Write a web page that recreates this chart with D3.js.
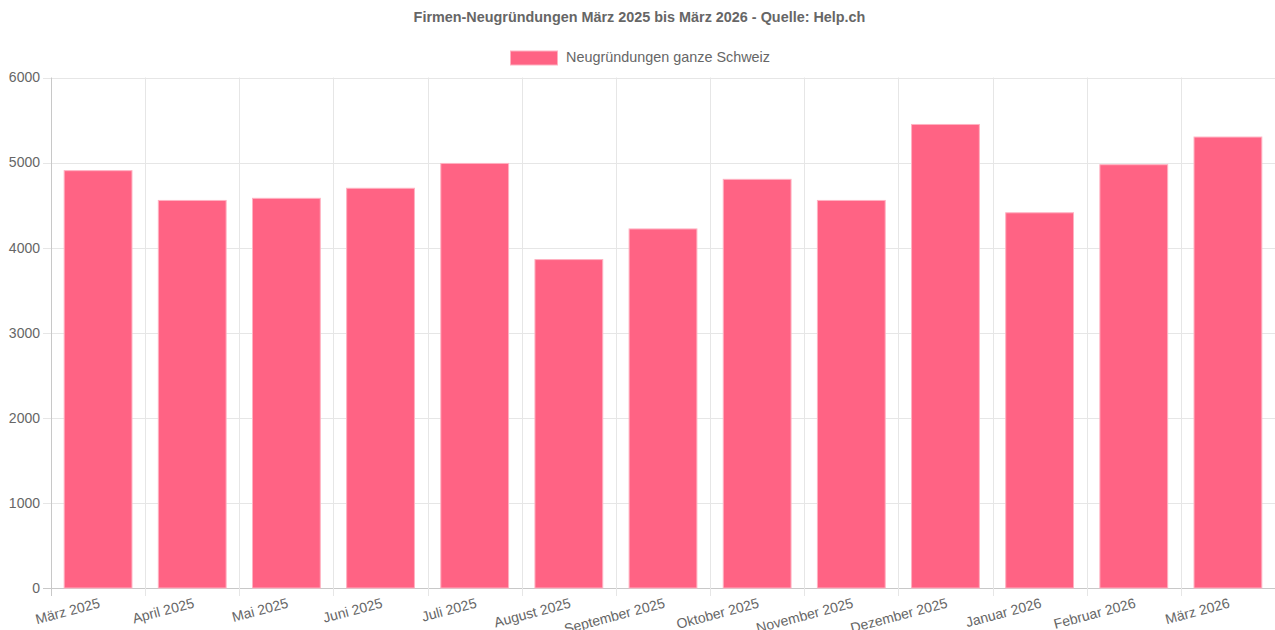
<!DOCTYPE html>
<html><head><meta charset="utf-8">
<script src="https://cdn.jsdelivr.net/npm/d3@7"></script>
<style>html,body{margin:0;padding:0;background:#fff;}svg{display:block;font-family:"Liberation Sans",Arial,Helvetica,sans-serif;}</style>
</head><body>
<svg id="chart" width="1275" height="630"></svg>
<script>
const categories = ["März 2025","April 2025","Mai 2025","Juni 2025","Juli 2025","August 2025","September 2025","Oktober 2025","November 2025","Dezember 2025","Januar 2026","Februar 2026","März 2026"];
const values = [4905, 4555, 4580, 4698, 4990, 3860, 4220, 4803, 4555, 5448, 4410, 4975, 5300];
const yTicks = [0, 1000, 2000, 3000, 4000, 5000, 6000];
const seriesName = "Neugründungen ganze Schweiz";
const titleText = "Firmen-Neugründungen März 2025 bis März 2026 - Quelle: Help.ch";

(function () {
const svg = d3.select("#chart");
const pl = 51, pr = 1275, pt = 77.5, pb = 588;
const x = d3.scaleBand().domain(categories).range([pl, pr]).paddingInner(0).paddingOuter(0);
const y = d3.scaleLinear().domain([0, 6000]).range([pb, pt]);
const bw = x.bandwidth();
const grid = "#e6e6e6", axisCol = "#c8c8c8", txt = "#666";
const fs = 14;

// horizontal grid
svg.append("g").selectAll("line").data(yTicks).join("line")
  .attr("x1", pl - 8).attr("x2", pr)
  .attr("y1", d => Math.round(y(d)) + 0.5).attr("y2", d => Math.round(y(d)) + 0.5)
  .attr("stroke", d => d === 0 ? axisCol : grid).attr("stroke-width", 1);
// vertical grid at category boundaries
const bounds = categories.map(c => x(c)).slice(1).concat([pr]);
svg.append("g").selectAll("line").data(bounds).join("line")
  .attr("x1", d => Math.round(d) + 0.5).attr("x2", d => Math.round(d) + 0.5)
  .attr("y1", pt).attr("y2", pb + 8)
  .attr("stroke", grid);
// left axis line
svg.append("line").attr("x1", pl + 0.5).attr("x2", pl + 0.5).attr("y1", pt).attr("y2", pb + 8).attr("stroke", axisCol);

// y tick labels
svg.append("g").selectAll("text").data(yTicks).join("text")
  .attr("x", 40).attr("y", d => y(d)).attr("dy", "0.35em")
  .attr("text-anchor", "end").attr("font-size", fs).attr("fill", txt)
  .text(d => d);

// bars
svg.append("g").selectAll("rect").data(values).join("rect")
  .attr("x", (d, i) => x(categories[i]) + bw * 0.14)
  .attr("width", bw * 0.72)
  .attr("y", d => y(d)).attr("height", d => y(0) - y(d))
  .attr("fill", "#ff6384").attr("stroke", "#ffb1c1").attr("stroke-width", 1);

// x labels
svg.append("g").selectAll("text").data(categories).join("text")
  .attr("transform", d => `translate(${x(d) + bw / 2},${597}) rotate(-15)`)
  .attr("text-anchor", "end").attr("dy", "0.75em")
  .attr("font-size", fs).attr("fill", txt).text(d => d);

// title
svg.append("text").attr("x", 639.5).attr("y", 22).attr("text-anchor", "middle")
  .attr("font-size", 14.4).attr("font-weight", "bold").attr("fill", txt).text(titleText);

// legend
svg.append("rect").attr("x", 510.5).attr("y", 51).attr("width", 47).attr("height", 14)
  .attr("fill", "#ff6384").attr("stroke", "#ffb1c1");
svg.append("text").attr("x", 566).attr("y", 62).attr("font-size", 14.4).attr("fill", txt).text(seriesName);
})();
</script>
</body></html>
